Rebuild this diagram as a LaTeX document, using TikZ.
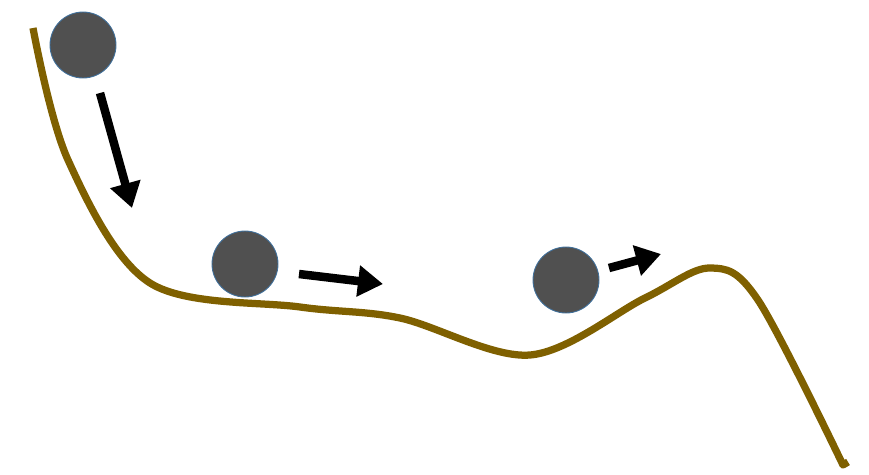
\documentclass[tikz,border=0pt]{standalone}
\usetikzlibrary{arrows.meta}
\definecolor{hillbrown}{HTML}{7F6000}
\definecolor{ballgray}{HTML}{505050}
\definecolor{ballrim}{HTML}{41719C}
\tikzset{
  ball/.style={circle, fill=ballgray, draw=ballrim, line width=0.5pt, minimum size=1.32cm, inner sep=0pt},
  push/.style={line width=1.7mm, -{Triangle[length=5mm, width=6mm]}, black}
}
\begin{document}
\begin{tikzpicture}[x=0.02cm, y=-0.02cm]
        \useasboundingbox (0,0) rectangle (869,474);
        % Hill profile
        \draw[hillbrown, line width=1.45mm, line join=round] plot[smooth, tension=0.55] coordinates {
          (33,28) (68,160) (150,283) (300,307) (400,318) (530,355)
          (645,298) (710,268) (758,300) (843,465)} -- (848,462);

        % Balls
        \node[ball] (top) at (83,45) {};
        \node[ball] (mid) at (245,264) {};
        \node[ball] (low) at (566,280) {};

        % Motion arrows
        \coordinate (a1s) at (100,93);  \coordinate (a1e) at (132,208);
        \coordinate (a2s) at (299,274); \coordinate (a2e) at (383,284);
        \coordinate (a3s) at (609,268); \coordinate (a3e) at (661,254);
        \draw[push] (a1s) -- (a1e);
        \draw[push] (a2s) -- (a2e);
        \draw[push] (a3s) -- (a3e);
\end{tikzpicture}
\end{document}
